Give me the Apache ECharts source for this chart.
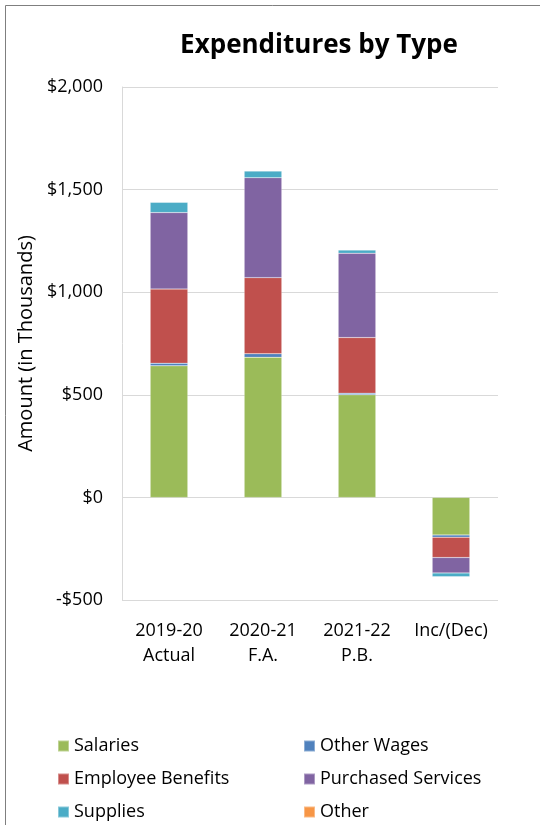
<!DOCTYPE html>
<html>
<head>
<meta charset="utf-8">
<script src="https://cdn.jsdelivr.net/npm/echarts@6/dist/echarts.min.js"></script>
<style>html,body{margin:0;padding:0;background:#fff;}#c{width:540px;height:825px;}</style>
</head>
<body>
<div id="c"></div>
<script>
const categories = ['2019-20\nActual', '2020-21\nF.A.', '2021-22\nP.B.', 'Inc/(Dec)'];
const salaries = [641, 683, 500, -183];
const otherWages = [13, 17, 8, -11];
const employeeBenefits = [361, 371, 271, -99];
const purchasedServices = [373, 487, 411, -75];
const supplies = [50, 33, 16, -19];
const other = [0, 0, 0, 0];
const legendRows = [
  ['Salaries', 'Other Wages'],
  ['Employee Benefits', 'Purchased Services'],
  ['Supplies', 'Other']
];
const yTicks = { min: -500, max: 2000, interval: 500 };

const FONT = 'Open Sans';
const colors = {
  'Salaries': '#9BBB59',
  'Other Wages': '#4F81BD',
  'Employee Benefits': '#C0504D',
  'Purchased Services': '#8064A2',
  'Supplies': '#4BACC6',
  'Other': '#F79646'
};
function mk(name, data) {
  return {
    name: name, type: 'bar', stack: 'total', data: data, barWidth: '40%',
    itemStyle: { color: colors[name], borderColor: 'rgba(255,255,255,0.35)', borderWidth: 0.5 },
    emphasis: { disabled: true }
  };
}
function fmt(v) {
  const s = Math.abs(v).toLocaleString('en-US');
  return (v < 0 ? '-$' : '$') + s;
}
const chart = echarts.init(document.getElementById('c'), null, { renderer: 'canvas' });
const legendText = { fontFamily: FONT, fontSize: 18, color: '#000' };
const legendCols = [57, 303];
const legends = [];
legendRows.forEach(function (row, i) {
  row.forEach(function (name, j) {
    legends.push({
      orient: 'horizontal', left: legendCols[j], top: 737 + i * 33, itemWidth: 11, itemHeight: 11,
      itemGap: 5, icon: 'rect', textStyle: legendText, data: [name], padding: 0
    });
  });
});
chart.setOption({
  animation: false,
  backgroundColor: '#fff',
  title: {
    text: 'Expenditures by Type', left: 314, top: 28, textAlign: 'center',
    textStyle: { fontFamily: FONT, fontWeight: 'bold', fontSize: 26, color: '#000' }
  },
  grid: { left: 122, right: 42, top: 87, bottom: 225 },
  xAxis: {
    type: 'category', data: categories,
    axisLine: { show: false }, axisTick: { show: false },
    axisLabel: { interval: 0, fontFamily: FONT, fontSize: 18, color: '#000', lineHeight: 25, margin: 18 }
  },
  yAxis: {
    type: 'value', min: yTicks.min, max: yTicks.max, interval: yTicks.interval,
    name: 'Amount (in Thousands)', nameLocation: 'middle', nameGap: 80,
    nameTextStyle: { fontFamily: FONT, fontSize: 20, color: '#000' },
    axisLine: { show: true, lineStyle: { color: '#D9D9D9' } },
    axisTick: { show: false },
    splitLine: { lineStyle: { color: '#D9D9D9', width: 1 } },
    axisLabel: { fontFamily: FONT, fontSize: 18, color: '#000', margin: 19, formatter: fmt }
  },
  legend: legends,
  graphic: [
    { type: 'line', shape: { x1: 5.5, y1: 5.5, x2: 540, y2: 5.5 }, style: { stroke: '#7F7F7F', lineWidth: 1 } },
    { type: 'line', shape: { x1: 5.5, y1: 5.5, x2: 5.5, y2: 825 }, style: { stroke: '#7F7F7F', lineWidth: 1 } }
  ],
  series: [
    mk('Salaries', salaries),
    mk('Other Wages', otherWages),
    mk('Employee Benefits', employeeBenefits),
    mk('Purchased Services', purchasedServices),
    mk('Supplies', supplies),
    mk('Other', other)
  ]
});
</script>
</body>
</html>
